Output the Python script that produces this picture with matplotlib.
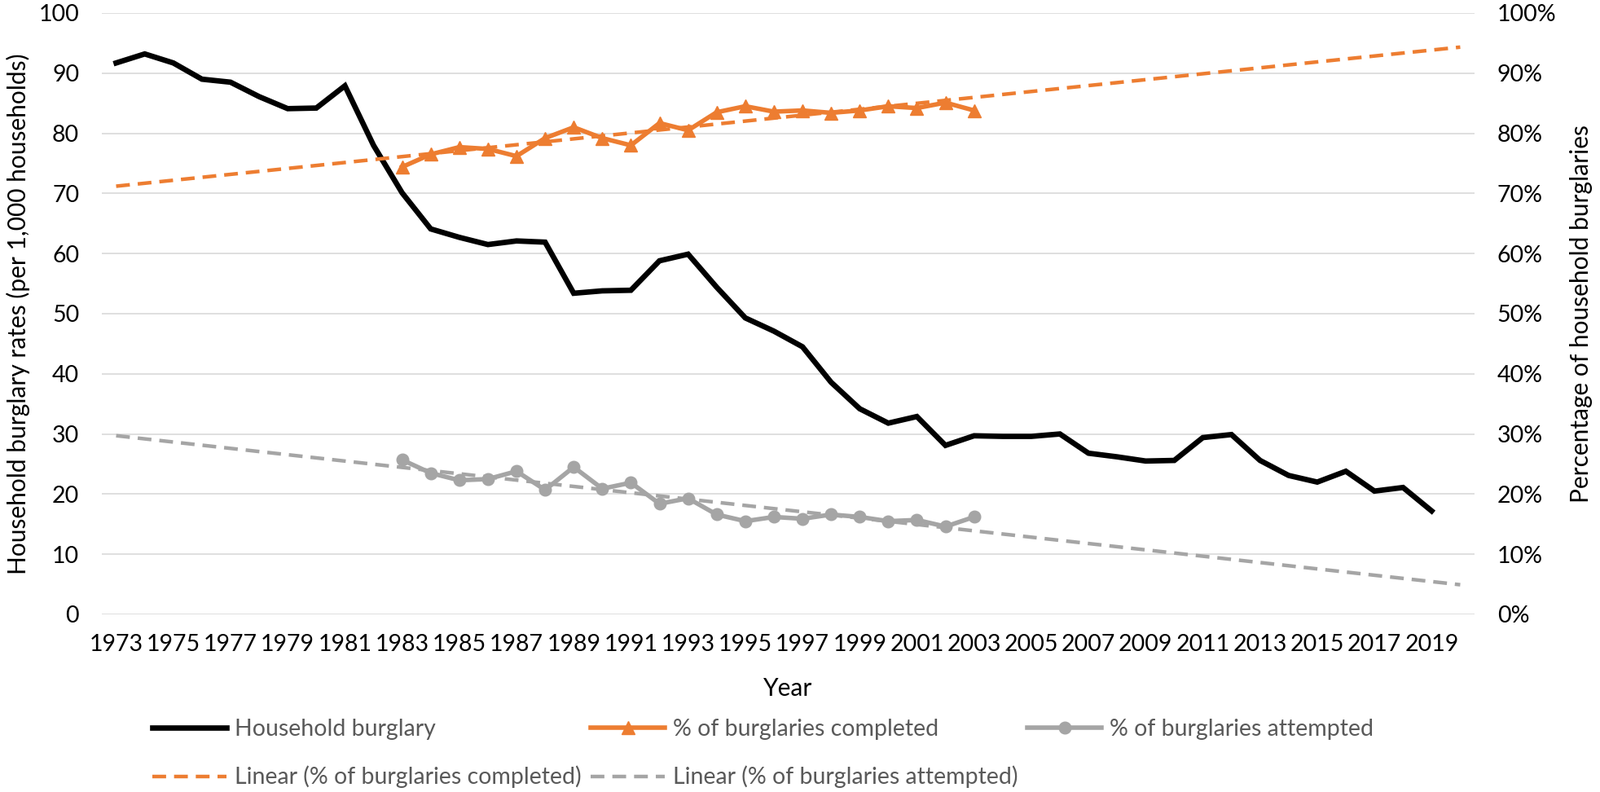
import numpy as np
import matplotlib
matplotlib.use("Agg")
import matplotlib.pyplot as plt
from matplotlib.ticker import FuncFormatter

plt.rcParams['font.family'] = ['Lato', 'DejaVu Sans']

# household burglary rate per 1,000 households, 1973-2019
years = list(range(1973, 2020))
burglary = [91.7, 93.2, 91.7, 89.0, 88.5, 86.1, 84.1, 84.2, 87.9, 78.0,
            70.1, 64.1, 62.7, 61.5, 62.1, 61.9, 53.4, 53.8, 53.9, 58.8,
            59.9, 54.4, 49.3, 47.1, 44.5, 38.6, 34.2, 31.8, 32.9, 28.1,
            29.7, 29.6, 29.6, 30.0, 26.8, 26.2, 25.5, 25.6, 29.4, 29.9,
            25.6, 23.1, 22.0, 23.8, 20.5, 21.1, 17.2]

# share of burglaries completed / attempted (%), 1983-2003
pct_years = list(range(1983, 2004))
completed = [74.4, 76.5, 77.7, 77.4, 76.2, 79.2, 81.0, 79.2, 78.0, 81.7,
             80.5, 83.5, 84.5, 83.6, 83.8, 83.4, 83.8, 84.5, 84.2, 85.1, 83.8]
attempted = [25.7, 23.5, 22.3, 22.5, 23.8, 20.7, 24.5, 20.9, 21.9, 18.4,
             19.3, 16.6, 15.5, 16.2, 15.9, 16.6, 16.2, 15.5, 15.7, 14.6, 16.2]

# linear trend lines span the full category range (Excel forecast)
trend_years = np.arange(1973, 2021)
fit_c = np.polyfit(pct_years, completed, 1)
fit_a = np.polyfit(pct_years, attempted, 1)

tick_years = list(range(1973, 2020, 2))

BLACK = '#000000'
ORANGE = '#ED7D31'
GRAY = '#A5A5A5'
FS = 20.5

fig = plt.figure(figsize=(19.64, 9.72), dpi=100)
ax = fig.add_axes([125 / 1964, 1 - 754 / 972, 1685 / 1964, 738 / 972])
ax2 = ax.twinx()

hb, = ax.plot(years, burglary, color=BLACK, lw=4.8, solid_joinstyle='miter',
              label='Household burglary', zorder=3)

comp, = ax2.plot(pct_years, completed, color=ORANGE, lw=4.0, marker='^', ms=12,
                 label='% of burglaries completed', zorder=3)
att, = ax2.plot(pct_years, attempted, color=GRAY, lw=4.0, marker='o', ms=10.5,
                label='% of burglaries attempted', zorder=3)
lin_c, = ax2.plot(trend_years, np.polyval(fit_c, trend_years), color=ORANGE, lw=3.2,
                  ls=(0, (3.8, 2.2)), label='Linear (% of burglaries completed)', zorder=4)
lin_a, = ax2.plot(trend_years, np.polyval(fit_a, trend_years), color=GRAY, lw=3.2,
                  ls=(0, (3.8, 2.2)), label='Linear (% of burglaries attempted)', zorder=4)

for a in (ax, ax2):
    a.set_xlim(1972.5, 2020.5)
    a.set_ylim(0, 100)
    for s in a.spines.values():
        s.set_visible(False)
    a.tick_params(length=0, labelsize=FS)

ax.set_yticks(range(0, 101, 10))
ax2.set_yticks(range(0, 101, 10))
ax2.yaxis.set_major_formatter(FuncFormatter(lambda v, p: f'{int(v)}%'))
ax.set_xticks(tick_years)
ax.tick_params(axis='x', pad=17)
ax.tick_params(axis='y', pad=20)
ax2.tick_params(axis='y', pad=20)
ax.grid(axis='y', color='#D9D9D9', lw=1.2)
ax.set_axisbelow(True)

ax.set_xlabel('Year', fontsize=FS + 1)
ax.xaxis.label.set_va('center')
ax.xaxis.set_label_coords(0.5, -(845 - 754) / 738)
ax.set_ylabel('Household burglary rates (per 1,000 households)', fontsize=FS + 1)
ax.yaxis.label.set_va('center')
ax.yaxis.set_label_coords((22 - 125) / 1685, 0.5)
ax2.set_ylabel('Percentage of household burglaries', fontsize=FS + 1)
ax2.yaxis.label.set_va('center')
ax2.yaxis.set_label_coords((1941 - 125) / 1685, 0.5)

# column-major order so rows read: series on top, trend lines below
leg = fig.legend(handles=[hb, lin_c, comp, lin_a, att], ncol=3, frameon=False,
                 loc='upper left', bbox_to_anchor=(187 / 1964, 1 - 882 / 972),
                 borderpad=0, borderaxespad=0, fontsize=FS, handlelength=3.2,
                 handletextpad=0.35, columnspacing=0.4, labelspacing=1.12)
for t in leg.get_texts():
    t.set_color('#595959')

fig.savefig('out.png', dpi=100)
